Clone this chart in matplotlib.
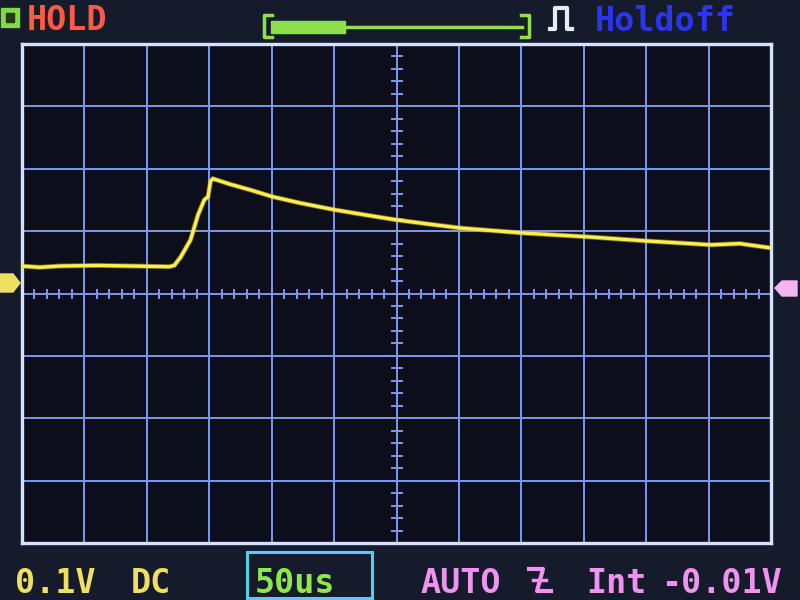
import matplotlib
matplotlib.use("Agg")
import matplotlib.pyplot as plt
from matplotlib.patches import Polygon, Rectangle
import numpy as np

# ---- data (time in microseconds, voltage in mV) ----
t_us = [0, 14, 30, 60, 90, 118, 122, 127, 135, 141, 146, 149, 151, 153,
        167, 183, 201, 223, 251, 275, 300, 327, 351, 401, 452, 502, 552, 575, 600]
v_mv = [44, 42, 44, 45, 44, 43, 45, 58, 86, 126, 150, 155, 180, 184,
        175, 166, 155, 145, 134, 126, 118, 111, 105, 97, 91, 84, 78, 80, 73]

volts_per_div = 100   # mV
time_per_div = 50     # us
n_xdiv = 12
n_ydiv = 8

top_labels = ["HOLD", "Holdoff"]
bottom_labels = ["0.1V", "DC", "50us", "AUTO", "Int", "-0.01V"]

W, H = 800, 600
fig = plt.figure(figsize=(8, 6), dpi=100)
fig.patch.set_facecolor("#161b2c")

# background/decor axes in pixel coordinates
bg = fig.add_axes([0, 0, 1, 1])
bg.set_xlim(0, W)
bg.set_ylim(H, 0)
bg.axis("off")
bg.set_facecolor("none")

# scope screen axes
L, T, R, B = 22, 44, 771, 543
ax = fig.add_axes([L / W, (H - B) / H, (R - L) / W, (B - T) / H])
ax.set_facecolor("#0c0f1b")
tmax = n_xdiv * time_per_div
vmax = n_ydiv / 2 * volts_per_div
ax.set_xlim(0, tmax)
ax.set_ylim(-vmax, vmax)
ax.set_xticks([])
ax.set_yticks([])
for s in ax.spines.values():
    s.set_color("#d6e0ff")
    s.set_linewidth(2.4)

gcol = "#7d98f0"
for i in range(1, n_xdiv):
    ax.axvline(i * time_per_div, color=gcol, lw=1.4, zorder=1)
for j in range(1, n_ydiv):
    ax.axhline(-vmax + j * volts_per_div, color=gcol, lw=1.4, zorder=1)

# center ticks
px_t = tmax / (R - L)
px_v = 2 * vmax / (B - T)
cx = tmax / 2
for k in range(1, n_xdiv * 5):
    x = k * time_per_div / 5
    ax.plot([x, x], [-5 * px_v, 5 * px_v], color=gcol, lw=1.4, zorder=1,
            solid_capstyle="butt")
for k in range(1, n_ydiv * 5):
    y = -vmax + k * volts_per_div / 5
    ax.plot([cx - 6 * px_t, cx + 6 * px_t], [y, y], color=gcol, lw=1.4, zorder=1,
            solid_capstyle="butt")

# trace
ax.plot(t_us, v_mv, color="#c8a020", lw=3.6, zorder=3, alpha=0.6,
        solid_joinstyle="miter")
ax.plot(t_us, v_mv, color="#f6f050", lw=2.4, zorder=4, solid_joinstyle="miter")

# overlay axes for texts / icons
ov = fig.add_axes([0, 0, 1, 1], zorder=10)
ov.set_xlim(0, W)
ov.set_ylim(H, 0)
ov.axis("off")
ov.set_facecolor("none")

# channel marker (left, yellow) and trigger marker (right, pink)
ov.add_patch(Polygon([(0, 274), (13, 274), (20, 283), (13, 292), (0, 292)],
                     closed=True, color="#eee060"))
ov.add_patch(Polygon([(797, 281), (782, 281), (775, 288), (782, 296), (797, 296)],
                     closed=True, color="#f4b4f0"))

# top-left icon
ov.add_patch(Rectangle((1, 8), 18, 19, color="#86d646"))
ov.add_patch(Rectangle((6, 13), 8, 9, color="#1f3a14"))

font = dict(family="DejaVu Sans Mono", weight="bold", fontsize=24)
ov.text(27, 30, top_labels[0], color="#ff5a44", va="baseline", ha="left", **font)
ov.text(595, 31, top_labels[1], color="#2a35f0", va="baseline", ha="left", **font)

# buffer position bar
gcol2 = "#8ee04a"
ov.plot([272, 264, 264, 272], [15, 15, 37, 37], color=gcol2, lw=2.5)
ov.plot([521, 529, 529, 521], [15, 15, 37, 37], color=gcol2, lw=2.5)
ov.add_patch(Rectangle((271, 21), 74, 12, color=gcol2))
ov.plot([345, 522], [27, 27], color=gcol2, lw=2.5)

# pulse symbol
ov.plot([550, 555, 555, 567, 567, 572], [29, 29, 8, 8, 29, 29],
        color="#e8ecff", lw=3)

# bottom bar
ov.text(15, 593, bottom_labels[0], color="#efe060", va="baseline", ha="left", **font)
ov.text(131, 593, bottom_labels[1], color="#efe060", va="baseline", ha="left", **font)
ov.add_patch(Rectangle((247, 552), 125, 46, fill=False, edgecolor="#5ccaf5", lw=2.2))
ov.text(255, 593, bottom_labels[2], color="#8ee84a", va="baseline", ha="left", **font)
ov.text(420, 593, bottom_labels[3], color="#f092f0", va="baseline", ha="left", **font)
ov.plot([529, 543, 537, 551], [569, 569, 591, 591], color="#f092f0", lw=3)
ov.plot([533, 546], [580, 580], color="#f092f0", lw=2.5)
ov.text(586, 593, bottom_labels[4], color="#f092f0", va="baseline", ha="left", **font)
ov.text(661, 593, bottom_labels[5], color="#f092f0", va="baseline", ha="left", **font)

fig.savefig("out.png", dpi=100, facecolor=fig.get_facecolor())
